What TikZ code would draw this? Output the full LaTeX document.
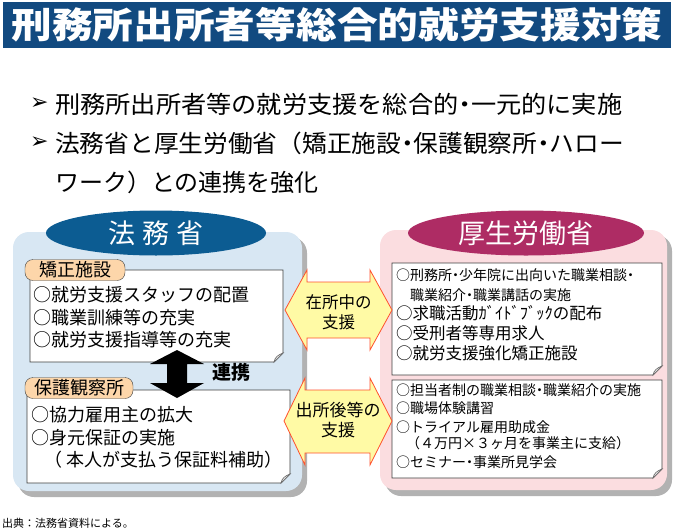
\documentclass[tikz,border=0pt]{standalone}
\usepackage{fontspec}
\usepackage{graphicx}
\setmainfont{Noto Sans CJK JP}
\newfontfamily\symfont{DejaVu Sans}
\usepackage{tikz}
\usetikzlibrary{shapes.geometric}
\definecolor{titleblue}{RGB}{18,74,128}
\definecolor{mojblue}{RGB}{12,92,146}
\definecolor{mhlwred}{RGB}{174,44,100}
\definecolor{mojpanel}{RGB}{216,231,243}
\definecolor{mhlwpanel}{RGB}{251,221,224}
\definecolor{tagorange}{RGB}{253,214,170}
\definecolor{arrowyellow}{RGB}{255,250,165}
\definecolor{arroworange}{RGB}{255,80,45}
\definecolor{shadowgray}{RGB}{178,178,178}
\newcommand{\fs}[1]{\fontsize{#1}{#1}\selectfont}
\newcommand{\nakaguro}{\makebox[0.5em]{・}}
\begin{document}
\begin{tikzpicture}[x=1pt,y=-1pt]
\tikzstyle{every node}+=[inner sep=0pt]
\tikzstyle{item}=[anchor=west,font=\fs{18}]
\tikzstyle{smallitem}=[anchor=west,font=\fs{14}]
\tikzstyle{miditem}=[anchor=west,font=\fs{16.5}]
\tikzstyle{lead}=[anchor=west,font=\fs{24}]
\tikzstyle{bullet}=[anchor=west,font=\symfont\fs{22}]
\tikzstyle{tag}=[draw=black!75,fill=tagorange,rounded corners=8pt,minimum height=21pt,font=\fs{18}]
\tikzstyle{notebox}=[draw=black!75,fill=white,line width=0.8pt]
\tikzstyle{curl}=[draw=black!60,fill=black!8,line width=0.6pt]
\tikzstyle{ministry}=[ellipse,text=white,minimum width=220pt,minimum height=45pt,font=\fs{27}]
\tikzstyle{support}=[draw=arroworange,fill=arrowyellow,line width=0.8pt,line join=miter]
\tikzstyle{supporttext}=[align=center,font=\fs{16.5}]
\useasboundingbox (0,0) rectangle (676,530);
\fill [titleblue] (3,2) rectangle (671,48);
\node [text=white,font=\bfseries\fs{36}] (title) at (337,25) {\scalebox{1.13}[1]{刑務所出所者等総合的就労支援対策}};
\node [bullet] (arr1) at (30,104) {➢};
\node [lead] (lead1) at (55,104) {\scalebox{1.05}[1]{刑務所出所者等の就労支援を総合的\nakaguro 一元的に実施}};
\node [bullet] (arr2) at (30,143) {➢};
\node [lead] (lead2) at (55,143) {\scalebox{1.03}[1]{法務省と厚生労働省（矯正施設\nakaguro 保護観察所\nakaguro ハロー}};
\node [lead] (lead3) at (55,182) {ワーク）との連携を強化};
\fill [shadowgray,rounded corners=16pt] (18,237) rectangle (307,497);
\fill [mojpanel,rounded corners=16pt] (13,232) rectangle (302,491);
\fill [shadowgray,rounded corners=16pt] (385,235) rectangle (672,496);
\fill [mhlwpanel,rounded corners=16pt] (380,230) rectangle (667,490);
\node [ministry,fill=mojblue] (moj) at (156,233) {法\hspace{7pt}務\hspace{7pt}省};
\node [ministry,fill=mhlwred,minimum width=236pt] (mhlw) at (526,233) {厚生労働省};
\draw [notebox] (30,270) -- (283,270) -- (283,353) -- (274,362) -- (30,362) -- cycle;
\filldraw [curl] (283,353) -- (274,362) .. controls (275,357) and (278,355) .. cycle;
\node [tag,minimum width=100pt] (kyosei) at (75,270) {矯正施設};
\node [item] (k1) at (33,295) {○就労支援スタッフの配置};
\node [item] (k2) at (33,318) {○職業訓練等の充実};
\node [item] (k3) at (33,340) {○就労支援指導等の充実};
\draw [notebox] (27,390) -- (290,390) -- (290,474) -- (281,483) -- (27,483) -- cycle;
\filldraw [curl] (290,474) -- (281,483) .. controls (282,478) and (285,476) .. cycle;
\node [tag,minimum width=108pt] (hogo) at (79,388) {保護観察所};
\node [item] (h1) at (31,415) {○協力雇用主の拡大};
\node [item] (h2) at (31,438) {○身元保証の実施};
\node [item] (h3) at (44,460) {（ 本人が支払う保証料補助）};
\fill [black] (177,350) -- (204,364) -- (187,364) -- (187,383) -- (204,383) -- (177,398) -- (150,383) -- (167,383) -- (167,364) -- (150,364) -- cycle;
\node [font=\bfseries\fs{19}] (renkei) at (231,372) {連携};
\draw [notebox] (392,263) -- (662,263) -- (662,366) -- (653,375) -- (392,375) -- cycle;
\filldraw [curl] (662,366) -- (653,375) .. controls (654,370) and (657,368) .. cycle;
\node [smallitem] (s1) at (396,275) {○刑務所\nakaguro 少年院に出向いた職業相談\nakaguro};
\node [smallitem] (s2) at (410,295) {職業紹介\nakaguro 職業講話の実施};
\node [miditem] (s3) at (396,313) {○求職活動ｶﾞｲﾄﾞﾌﾞｯｸの配布};
\node [miditem] (s4) at (396,333) {○受刑者等専用求人};
\node [miditem] (s5) at (396,353) {○就労支援強化矯正施設};
\draw [notebox] (392,380) -- (662,380) -- (662,469) -- (653,478) -- (392,478) -- cycle;
\filldraw [curl] (662,469) -- (653,478) .. controls (654,473) and (657,471) .. cycle;
\node [smallitem] (t1) at (396,390) {○担当者制の職業相談\nakaguro 職業紹介の実施};
\node [smallitem] (t2) at (396,408) {○職場体験講習};
\node [smallitem] (t3) at (396,427) {○トライアル雇用助成金};
\node [smallitem] (t4) at (406,443) {（４万円×３ヶ月を事業主に支給）};
\node [smallitem] (t5) at (396,462) {○セミナー\nakaguro 事業所見学会};
\draw [support] (285,310) -- (307,270) -- (307,282) -- (370,282) -- (370,270) -- (392,310) -- (370,350) -- (370,338) -- (307,338) -- (307,350) -- cycle;
\node [supporttext] (zaisho) at (338.5,312) {在所中の\\[4pt]支援};
\draw [support] (284,421) -- (305,378) -- (305,390) -- (370,390) -- (370,378) -- (392,421) -- (370,465) -- (370,453) -- (305,453) -- (305,465) -- cycle;
\node [supporttext,font=\fs{17}] (shussho) at (338,420) {出所後等の\\[3pt]支援};
\node [anchor=west,font=\fs{11}] (source) at (2,523) {出典：法務省資料による。};
\end{tikzpicture}
\end{document}
